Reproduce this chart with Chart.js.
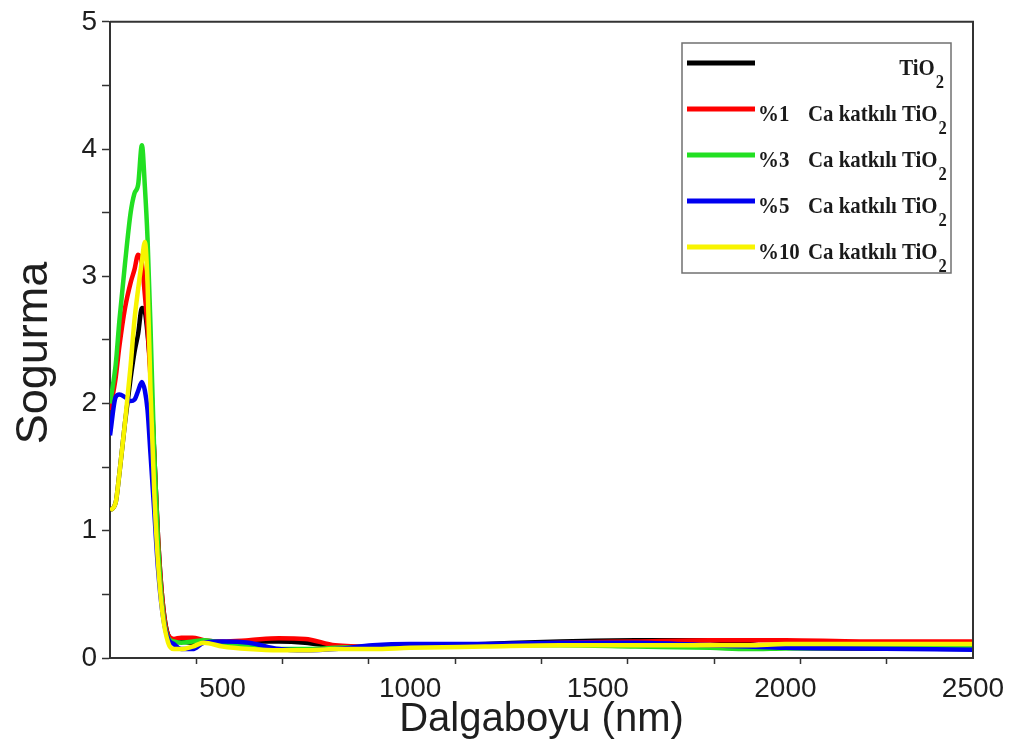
<!DOCTYPE html>
<html>
<head>
<meta charset="utf-8">
<script src="https://cdn.jsdelivr.net/npm/chart.js@4.4.1/dist/chart.umd.min.js"></script>
<style>
  html, body { margin: 0; padding: 0; background: #fff; }
  #wrap { width: 1016px; height: 756px; }
</style>
</head>
<body>
<div id="wrap"><canvas id="absChart" width="1016" height="756"></canvas></div>
<script>
// dalga boyu noktalari (nm)
const wavelengths = [200, 215, 225, 240, 255, 265, 275, 285, 293, 300, 308, 318, 328, 340, 355, 370, 390, 420, 450, 500, 570, 650, 720, 800, 900, 1000, 1200, 1400, 1600, 1800, 1900, 2000, 2200, 2500];

// sogurma degerleri
const tio2 = [1.16, 1.22, 1.45, 1.85, 2.2, 2.4, 2.55, 2.75, 2.72, 2.55, 2.25, 1.6, 0.95, 0.45, 0.18, 0.14, 0.13, 0.12, 0.12, 0.12, 0.13, 0.13, 0.12, 0.09, 0.08, 0.09, 0.11, 0.13, 0.14, 0.14, 0.11, 0.08, 0.075, 0.07];
const ca1 = [1.95, 2.2, 2.45, 2.75, 2.95, 3.05, 3.17, 3.1, 2.85, 2.6, 2.2, 1.6, 0.95, 0.45, 0.18, 0.15, 0.16, 0.16, 0.14, 0.13, 0.14, 0.155, 0.15, 0.1, 0.09, 0.09, 0.1, 0.12, 0.13, 0.14, 0.14, 0.14, 0.13, 0.13];
const ca3 = [2.0, 2.3, 2.65, 3.1, 3.5, 3.65, 3.72, 4.03, 3.7, 3.3, 2.6, 1.6, 0.9, 0.4, 0.16, 0.13, 0.12, 0.13, 0.14, 0.12, 0.09, 0.07, 0.07, 0.08, 0.09, 0.1, 0.1, 0.1, 0.09, 0.08, 0.07, 0.075, 0.08, 0.09];
const ca5 = [1.75, 2.05, 2.07, 2.05, 2.02, 2.03, 2.1, 2.17, 2.1, 1.95, 1.6, 1.15, 0.7, 0.35, 0.15, 0.11, 0.07, 0.07, 0.12, 0.13, 0.12, 0.07, 0.06, 0.07, 0.1, 0.11, 0.11, 0.12, 0.12, 0.1, 0.09, 0.08, 0.075, 0.065];
const ca10 = [1.16, 1.22, 1.45, 1.85, 2.3, 2.65, 2.9, 3.12, 3.27, 2.95, 2.1, 1.3, 0.75, 0.35, 0.12, 0.07, 0.07, 0.09, 0.12, 0.09, 0.07, 0.06, 0.06, 0.07, 0.07, 0.08, 0.09, 0.1, 0.1, 0.1, 0.1, 0.11, 0.11, 0.11];

// lejant metinleri
const seriesPrefix = ['', '%1', '%3', '%5', '%10'];
const seriesName = ['TiO', 'Ca katkılı TiO', 'Ca katkılı TiO', 'Ca katkılı TiO', 'Ca katkılı TiO'];
const seriesColors = ['#000000', '#ff0000', '#22e022', '#0000f0', '#f8f400'];

// eksen etiketleri
const xTickLabels = [500, 1000, 1500, 2000, 2500];
const xTickMarks = [430, 660, 890, 1120, 1350, 1580, 1810, 2040, 2270];
const yTitle = 'Sogurma';

const seriesValues = [tio2, ca1, ca3, ca5, ca10];
const drawOrder = [4, 3, 2, 1, 0]; // sari en ustte

const datasets = seriesValues.map((vals, i) => ({
  label: seriesPrefix[i] + ' ' + seriesName[i] + '2',
  data: vals.map((v, k) => ({ x: wavelengths[k], y: v })),
  borderColor: seriesColors[i],
  backgroundColor: seriesColors[i],
  borderWidth: 4.5,
  pointRadius: 0,
  cubicInterpolationMode: 'monotone',
  order: drawOrder[i]
}));

// ust ve sag cerceve
const framePlugin = {
  id: 'frame',
  afterDatasetsDraw(chart) {
    const { ctx, chartArea: a } = chart;
    ctx.save();
    ctx.strokeStyle = '#333';
    ctx.lineWidth = 2;
    ctx.beginPath();
    ctx.moveTo(a.left, a.top);
    ctx.lineTo(a.right, a.top);
    ctx.lineTo(a.right, a.bottom);
    ctx.stroke();
    ctx.restore();
  }
};

// y ekseni basligi, biraz asagida
const yTitlePlugin = {
  id: 'yTitle',
  afterDraw(chart) {
    const c = chart.ctx;
    c.save();
    c.translate(35, 353);
    c.rotate(-Math.PI / 2);
    c.font = '45px "Liberation Sans", Arial, sans-serif';
    c.fillStyle = '#1e1e1e';
    c.textAlign = 'center';
    c.textBaseline = 'middle';
    c.fillText(yTitle, 0, 0);
    c.restore();
  }
};

// dar yazilmis metin
function squeezeText(c, text, x, y, sx) {
  c.save();
  c.translate(x, y);
  c.scale(sx, 1);
  c.fillText(text, 0, 0);
  c.restore();
}

// kutulu lejant, alt simgeli TiO2
const legendPlugin = {
  id: 'boxLegend',
  afterDraw(chart) {
    const c = chart.ctx;
    const bx = 682, by = 43, bw = 269, bh = 230;
    c.save();
    c.fillStyle = '#fff';
    c.fillRect(bx, by, bw, bh);
    c.strokeStyle = '#707070';
    c.lineWidth = 1.5;
    c.strokeRect(bx, by, bw, bh);
    const sx = 0.87;
    const mainFont = 'bold 24px "Liberation Serif"';
    const subFont = 'bold 19px "Liberation Serif"';
    chart.data.datasets.forEach((ds, i) => {
      const rowY = by + 20 + i * 46;
      c.strokeStyle = ds.borderColor;
      c.lineWidth = 5;
      c.beginPath();
      c.moveTo(bx + 5, rowY);
      c.lineTo(bx + 73, rowY);
      c.stroke();
      c.fillStyle = '#1a1a1a';
      c.textBaseline = 'alphabetic';
      c.font = subFont;
      const subW = c.measureText('2').width * sx;
      c.font = mainFont;
      const nameW = c.measureText(seriesName[i]).width * sx;
      let nameX;
      if (seriesPrefix[i]) {
        squeezeText(c, seriesPrefix[i], bx + 76, rowY + 12, sx);
        nameX = bx + 126;
      } else {
        nameX = bx + bw - 8 - subW - nameW;
      }
      squeezeText(c, seriesName[i], nameX, rowY + 12, sx);
      c.font = subFont;
      squeezeText(c, '2', nameX + nameW + 1, rowY + 25, sx);
    });
    c.restore();
  }
};

const tickFont = { family: '"Liberation Sans", Arial, sans-serif', size: 28 };

new Chart(document.getElementById('absChart'), {
  type: 'line',
  data: { datasets },
  options: {
    responsive: false,
    animation: false,
    layout: { padding: { left: 0, top: 20, right: 43, bottom: 0 } },
    plugins: { legend: { display: false }, tooltip: { enabled: false } },
    scales: {
      x: {
        type: 'linear',
        min: 200,
        max: 2500,
        afterFit: s => { s.height = 98; },
        afterBuildTicks: s => {
          s.ticks = xTickMarks.concat(xTickLabels).sort((a, b) => a - b).map(v => ({ value: v }));
        },
        ticks: {
          autoSkip: false,
          maxRotation: 0,
          padding: 8,
          color: '#1e1e1e',
          font: tickFont,
          callback: v => xTickLabels.includes(v) ? String(v) : ''
        },
        grid: {
          drawOnChartArea: false,
          drawTicks: true,
          tickLength: 6,
          tickWidth: 1.5,
          tickColor: ctx => (ctx.tick && xTickLabels.includes(ctx.tick.value)) ? 'rgba(0,0,0,0)' : '#333'
        },
        border: { color: '#333', width: 2 },
        title: {
          display: true,
          text: 'Dalgaboyu (nm)',
          color: '#1e1e1e',
          font: { family: '"Liberation Sans", Arial, sans-serif', size: 40 },
          padding: { top: 0, bottom: 12 }
        }
      },
      y: {
        min: 0,
        max: 5,
        afterFit: s => { s.width = 110; },
        ticks: {
          stepSize: 0.5,
          padding: 5,
          color: '#1e1e1e',
          font: tickFont,
          callback: v => Number.isInteger(v) ? String(v) : ''
        },
        grid: {
          drawOnChartArea: false,
          drawTicks: true,
          tickLength: 8,
          tickWidth: 1.5,
          tickColor: '#333'
        },
        border: { color: '#333', width: 2 }
      }
    }
  },
  plugins: [framePlugin, yTitlePlugin, legendPlugin]
});
</script>
</body>
</html>
